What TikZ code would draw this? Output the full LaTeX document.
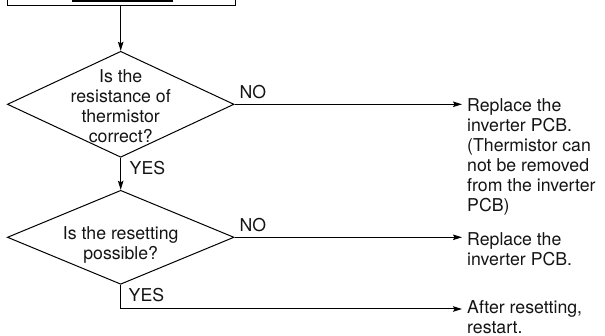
\documentclass[tikz,border=0pt]{standalone}
\usepackage{fontspec}
\setmainfont{TeX Gyre Heros}
\usetikzlibrary{shapes.geometric,arrows.meta}
\begin{document}
\begin{tikzpicture}[x=1pt,y=-1pt,
  line/.style={line width=1pt, draw=black},
  arr/.style={line, -{Stealth[length=9pt,width=5.5pt,inset=1.5pt]}},
  dia/.style={shape=diamond, draw, line width=1pt, inner sep=0pt},
  txt/.style={font=\fontsize{17.7}{20}\selectfont, text=black!92, inner sep=0pt},
  lbl/.style={txt, anchor=base west},
  res/.style={txt, align=left, anchor=north west},
  qtext/.style={txt, align=center, anchor=north}
]
\useasboundingbox (0,0) rectangle (605,336);
\clip (0,0) rectangle (605,336);
% top box (cut off by the frame)
\node[draw, line width=1pt, minimum width=227.7pt, minimum height=30pt, inner sep=0pt, anchor=south] (start) at (121.15,6) {};
\fill[black] (71.7,-3) rectangle (173.3,1.7);
% decisions
\node[dia, minimum width=226.7pt, minimum height=106pt] (d1) at (120.7,104.3) {};
\node[qtext] (q1) at (120.7,69.5) {Is the\\resistance of\\thermistor\\correct?};
\node[dia, minimum width=226.7pt, minimum height=94pt] (d2) at (120.7,237.3) {};
\node[qtext] (q2) at (120.7,226.5) {Is the resetting\\possible?};
% results
\node[res] (r1) at (467,98) {Replace the\\inverter PCB.\\(Thermistor can\\not be removed\\from the inverter\\PCB)};
\node[res] (r2) at (467,232.3) {Replace the\\inverter PCB.};
\node[res] (r3) at (467,300) {After resetting,\\restart.};
% labels
\node[lbl] (no1) at (239.5,98.3) {NO};
\node[lbl] (yes1) at (129.5,175) {YES};
\node[lbl] (no2) at (239.3,232) {NO};
\node[lbl] (yes2) at (128.5,301.7) {YES};
% connectors
\coordinate (k) at (120.7,309);
\draw[arr] (start.south -| d1.north) -- (d1.north);
\draw[arr] (d1.south) -- (d2.north);
\draw[arr] (d1.east) -- ([xshift=-5pt]r1.west |- d1.east);
\draw[arr] (d2.east) -- ([xshift=-5pt]r2.west |- d2.east);
\draw[arr] (d2.south) -- (k) -- ([xshift=-5pt]r3.west |- k);
\end{tikzpicture}
\end{document}
